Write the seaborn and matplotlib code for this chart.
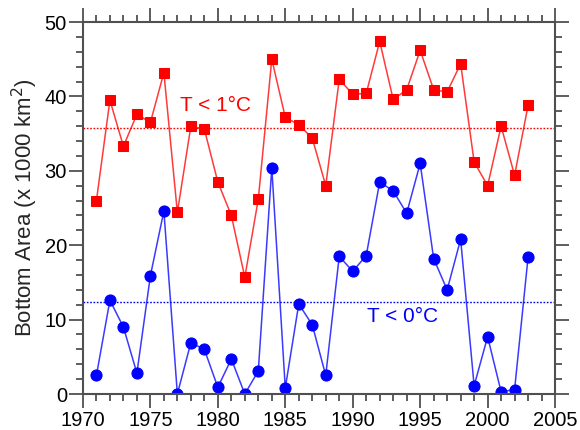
import matplotlib
matplotlib.use("Agg")
import matplotlib.pyplot as plt
import seaborn as sns
import pandas as pd
from matplotlib.ticker import MultipleLocator

years = list(range(1971, 2004))
area_t1 = [26.0, 39.5, 33.3, 37.6, 36.5, 43.2, 24.4, 36.0, 35.6, 28.5,
           24.0, 15.7, 26.2, 45.0, 37.2, 36.2, 34.4, 28.0, 42.3, 40.3,
           40.4, 47.4, 39.6, 40.9, 46.2, 40.9, 40.6, 44.4, 31.2, 28.0,
           36.0, 29.4, 38.8]
area_t0 = [2.5, 12.6, 9.0, 2.8, 15.9, 24.6, 0.0, 6.9, 6.0, 0.9,
           4.7, 0.0, 3.1, 30.4, 0.8, 12.1, 9.3, 2.5, 18.5, 16.5,
           18.6, 28.5, 27.3, 24.3, 31.0, 18.2, 14.0, 20.8, 1.1, 7.7,
           0.3, 0.6, 18.4]
mean_t1 = 35.7
mean_t0 = 12.4
label_t1 = "T < 1°C"
label_t0 = "T < 0°C"

sns.set_style("ticks")
plt.rcParams['font.family'] = ['Liberation Sans', 'DejaVu Sans']

df1 = pd.DataFrame({"year": years, "area": area_t1})
df0 = pd.DataFrame({"year": years, "area": area_t0})

fig = plt.figure(figsize=(5.8, 4.3), dpi=100)
ax = fig.add_axes([0.143, 0.0837, 0.814, 0.865])

red = "#ff0000"
blue = "#0000ff"

sns.lineplot(data=df1, x="year", y="area", ax=ax, color="#ff3a3a", lw=1.1,
             marker="s", markersize=7, markerfacecolor=red, markeredgecolor=red)
sns.lineplot(data=df0, x="year", y="area", ax=ax, color="#3a3aff", lw=1.1,
             marker="o", markersize=8, markerfacecolor=blue, markeredgecolor=blue)

ax.axhline(mean_t1, color=red, ls=(0, (1.2, 1.2)), lw=1.0)
ax.axhline(mean_t0, color=blue, ls=(0, (1.2, 1.2)), lw=1.0)

ax.text(1979.8, 38.8, label_t1, color=red, fontsize=15, ha="center", va="center")
ax.text(1993.7, 10.4, label_t0, color=blue, fontsize=15, ha="center", va="center")

ax.set_xlim(1970, 2005)
ax.set_ylim(0, 50)
ax.xaxis.set_major_locator(MultipleLocator(5))
ax.xaxis.set_minor_locator(MultipleLocator(1))
ax.yaxis.set_major_locator(MultipleLocator(10))
ax.yaxis.set_minor_locator(MultipleLocator(2))

spine_col = "#505050"
for s in ax.spines.values():
    s.set_visible(True)
    s.set_color(spine_col)
    s.set_linewidth(1.5)
ax.tick_params(which="both", direction="out", top=True, right=True,
               color=spine_col, width=1.3, labelsize=14.5, labelcolor="black")
ax.tick_params(which="major", length=10)
ax.tick_params(which="minor", length=5)
ax.tick_params(axis="x", pad=2.5)
ax.tick_params(axis="y", pad=1.5)

ax.set_xlabel("")
ax.set_ylabel("Bottom Area (x 1000 km$^2$)", fontsize=16, labelpad=3)

fig.savefig("out.png", dpi=100)
